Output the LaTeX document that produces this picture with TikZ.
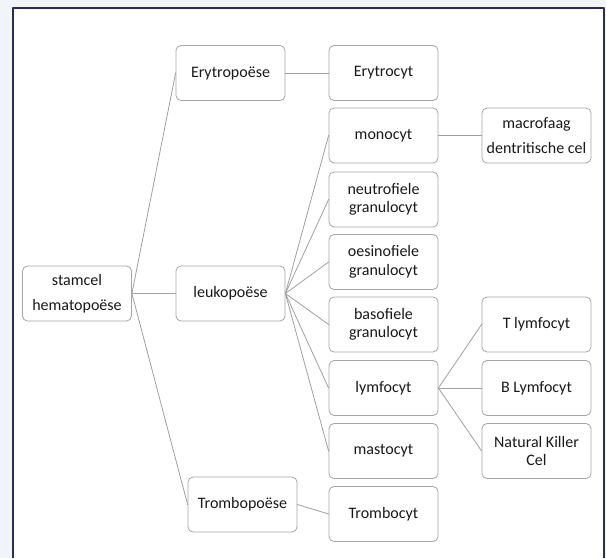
\documentclass[tikz,border=0pt]{standalone}
\usepackage{fontspec}
\setmainfont{Carlito}
\usetikzlibrary{positioning}

\definecolor{pagebg}{RGB}{241,245,249}
\definecolor{framecol}{RGB}{44,44,88}
\definecolor{boxline}{RGB}{166,166,166}
\definecolor{linkcol}{RGB}{160,160,160}
\definecolor{txtcol}{RGB}{25,25,25}

\begin{document}
\begin{tikzpicture}[x=1pt, y=-1pt, line join=round, line cap=round,
    cell/.style={draw=boxline, fill=white, rounded corners=5pt, line width=0.8pt,
        minimum width=109pt, minimum height=55pt, align=center, text=txtcol,
        inner sep=2pt, font=\fontsize{16}{18.5}\selectfont},
    link/.style={draw=linkcol, line width=0.8pt}]
    \useasboundingbox (0,0) rectangle (606,558);
    \fill[pagebg] (0,0) rectangle (606,558);
    \fill[white] (13,8) rectangle (604,558);
    \draw[framecol, line width=2pt, line cap=butt] (13,558) -- (13,8) -- (604,8) -- (604,558);

    % eerste kolom
    \node[cell] (stamcel) at (77,293.5) {stamcel\\[6pt]hematopoëse};

    % tweede kolom
    \node[cell] (erytropoese) at (230.5,73) {Erytropoëse};
    \node[cell] (leukopoese) at (230.5,293.5) {leukopoëse};
    \node[cell] (trombopoese) at (242.5,504.5) {Trombopoëse};

    % derde kolom
    \node[cell] (erytrocyt) at (383.5,73) {Erytrocyt};
    \node[cell] (monocyt) at (383.5,135.5) {monocyt};
    \node[cell] (neutrofiel) at (383.5,199.5) {neutrofiele\\granulocyt};
    \node[cell] (oesinofiel) at (383.5,262) {oesinofiele\\granulocyt};
    \node[cell] (basofiel) at (383.5,324.5) {basofiele\\granulocyt};
    \node[cell] (lymfocyt) at (383.5,388) {lymfocyt};
    \node[cell] (mastocyt) at (383.5,451) {mastocyt};
    \node[cell] (trombocyt) at (383.5,514) {Trombocyt};

    % vierde kolom
    \node[cell] (macrofaag) at (536.5,135.5) {macrofaag\\[6pt]dentritische cel};
    \node[cell] (tlymfocyt) at (536.5,324.5) {T lymfocyt};
    \node[cell] (blymfocyt) at (536.5,388) {B Lymfocyt};
    \node[cell] (nkcel) at (536.5,451) {Natural Killer\\Cel};

    % verbindingen
    \draw[link] (stamcel.east) -- (erytropoese.west);
    \draw[link] (stamcel.east) -- (leukopoese.west);
    \draw[link] (stamcel.east) -- (trombopoese.west);
    \draw[link] (erytropoese.east) -- (erytrocyt.west);
    \foreach \n in {monocyt, neutrofiel, oesinofiel, basofiel, lymfocyt, mastocyt}
        \draw[link] (leukopoese.east) -- (\n.west);
    \draw[link] (monocyt.east) -- (macrofaag.west);
    \foreach \n in {tlymfocyt, blymfocyt, nkcel}
        \draw[link] (lymfocyt.east) -- (\n.west);
    \draw[link] (trombopoese.east) -- (trombocyt.west);
\end{tikzpicture}
\end{document}
